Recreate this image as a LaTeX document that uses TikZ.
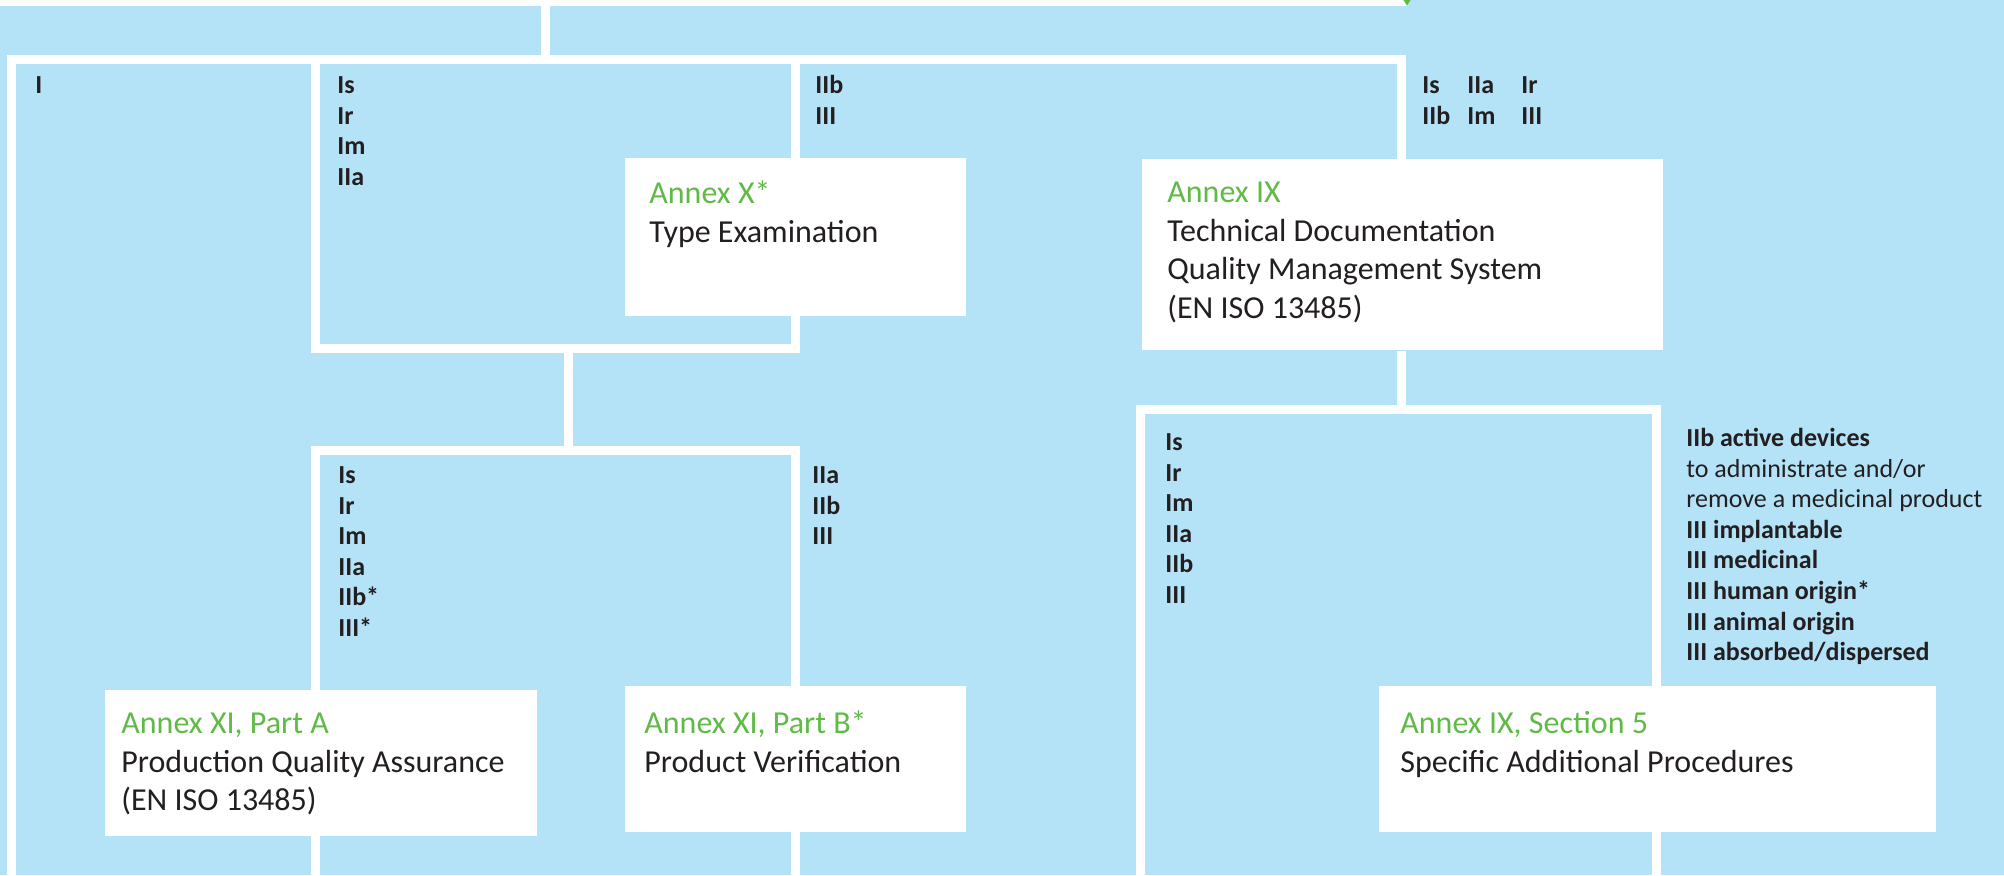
\documentclass[tikz,border=0pt]{standalone}
\usepackage{fontspec}
\setmainfont{Carlito}
\definecolor{sky}{RGB}{180,226,247}
\definecolor{leaf}{RGB}{95,186,70}
\definecolor{ink}{RGB}{35,31,32}
\newcommand\annexfont{\fontsize{16}{19.3}\selectfont}
\newcommand\classfont{\fontsize{13}{15.3}\selectfont\bfseries}
\newcommand\bigstrut{\rule{0pt}{14pt}}
\newcommand\smallstrut{\rule{0pt}{11pt}}
\newcommand\annexname[1]{\textcolor{leaf}{#1}}
\pgfdeclarelayer{wires}
\pgfsetlayers{wires,main}
\begin{document}
\begin{tikzpicture}[x=0.5pt,y=-0.5pt,
  wire/.style={draw=white, line width=4.5pt, line join=miter},
  box/.style={fill=white, draw=none, inner sep=0pt, anchor=north west},
  annextext/.style={anchor=north west, inner sep=0pt, align=left, text=ink, font=\annexfont},
  classtext/.style={anchor=north west, inner sep=0pt, align=left, text=ink, font=\classfont}]
\clip (0,0) rectangle (2004,875);
\useasboundingbox (0,0) rectangle (2004,875);

% procedure boxes
\node[box, minimum width=703.5pt, minimum height=40pt, anchor=south west] (upper) at (0,6) {};
\node[box, minimum width=170.5pt, minimum height=79pt]   (annexX)  at (625,158) {};
\node[box, minimum width=260.5pt, minimum height=95.5pt] (annexIX) at (1142,159) {};
\node[box, minimum width=216pt,   minimum height=73pt]   (partA)   at (105,690) {};
\node[box, minimum width=170.5pt, minimum height=73pt]   (partB)   at (625,686) {};
\node[box, minimum width=278.5pt, minimum height=73pt]   (sec5)    at (1379,686) {};

% arrow tip arriving from above
\fill[leaf] (1403.5,0) -- (1410.5,0) -- (1407,5.5) -- cycle;

% junction points of the white routing lines
\coordinate (drop) at (545.5,6);
\coordinate (busL) at (11,59.5);
\coordinate (busR) at (1401.5,59.5);
\coordinate (b1L) at (315.5,59.5);
\coordinate (b1R) at (795.5,59.5);
\coordinate (b1bot) at (568.5,348);
\coordinate (b2top) at (568.5,450.5);
\coordinate (b3top) at (1401.5,409.5);

\begin{pgfonlayer}{wires}
  \fill[sky] (0,0) rectangle (2004,875);
  \draw[wire] (upper.south -| drop) -- (drop |- busL);
  \draw[wire] (11,880) -- (busL) -- (busR) -- (annexIX.north -| busR);
  % bracket round the classes of Annex X
  \draw[wire] (b1L) -- (b1L |- b1bot) -- (b1R |- b1bot) -- (b1R);
  \draw[wire] (b1bot) -- (b2top);
  % bracket round the classes of Annex XI
  \draw[wire] (315.5,880) -- (315.5,450.5) -- (795.5,450.5) -- (795.5,880);
  % bracket round the classes of Annex IX, Section 5
  \draw[wire] (annexIX.south -| busR) -- (b3top);
  \draw[wire] (1140.5,880) -- (1140.5,409.5) -- (1656.5,409.5) -- (1656.5,880);
\end{pgfonlayer}

% annex labels
\node[annextext] (tX) at (649,175) {\bigstrut\annexname{Annex X*}\\Type Examination};
\node[annextext] (tIX) at (1167,174) {\bigstrut\annexname{Annex IX}\\Technical Documentation\\Quality Management System\\(EN ISO 13485)};
\node[annextext] (tA) at (121,705) {\bigstrut\annexname{Annex XI, Part A}\\Production Quality Assurance\\(EN ISO 13485)};
\node[annextext] (tB) at (644,705) {\bigstrut\annexname{Annex XI, Part B*}\\Product Verification};
\node[annextext] (t5) at (1400,705) {\bigstrut\annexname{Annex IX, Section 5}\\Specific Additional Procedures};

% device classes
\node[classtext] (cI) at (35,71) {\smallstrut I};
\node[classtext] (c1) at (337,71) {\smallstrut Is\\Ir\\Im\\IIa};
\node[classtext] (c1b) at (815,71) {\smallstrut IIb\\III};
\node[classtext] (cR1) at (1422,71) {\smallstrut Is\\IIb};
\node[classtext] (cR2) at (1467,71) {\smallstrut IIa\\Im};
\node[classtext] (cR3) at (1521,71) {\smallstrut Ir\\III};
\node[classtext] (c2) at (338,461) {\smallstrut Is\\Ir\\Im\\IIa\\IIb*\\III*};
\node[classtext] (c2b) at (812,461) {\smallstrut IIa\\IIb\\III};
\node[classtext] (c3) at (1165,428) {\smallstrut Is\\Ir\\Im\\IIa\\IIb\\III};
\node[classtext] (c3b) at (1686,424) {\smallstrut IIb active devices\\{\mdseries to administrate and/or}\\{\mdseries remove a medicinal product}\\III implantable\\III medicinal\\III human origin*\\III animal origin\\III absorbed/dispersed};
\end{tikzpicture}
\end{document}
